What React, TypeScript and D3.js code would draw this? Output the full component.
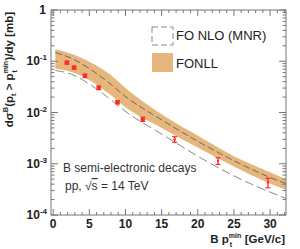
import * as d3 from 'd3';

// curve grid (B p_t^min, GeV/c)
const curveX = [0.3, 2.5, 5.4, 7.5, 10.2, 15, 20.5, 25, 30, 32.2];
const fonllHi = [0.172, 0.14, 0.091, 0.06, 0.0284, 0.0092, 0.0032, 0.0014, 0.00068, 0.0005];
const fonllLo = [0.071, 0.062, 0.04, 0.0245, 0.0121, 0.005, 0.0019, 0.00088, 0.00041, 0.00031];
const mnrHi = [0.148, 0.115, 0.066, 0.04, 0.0195, 0.0072, 0.0025, 0.00115, 0.00054, 0.00041];
const mnrLo = [0.066, 0.056, 0.033, 0.02, 0.01, 0.0038, 0.00128, 0.00058, 0.00028, 0.00021];

// measured points
const ptX = [1.9, 2.9, 4.4, 6.3, 8.9, 12.4, 16.8, 22.8, 29.7];
const ptY = [0.094, 0.075, 0.052, 0.0305, 0.0158, 0.0074, 0.003, 0.00113, 0.00043];
const ptLo = [0.088, 0.07, 0.048, 0.028, 0.0147, 0.0067, 0.00262, 0.00097, 0.00034];
const ptHi = [0.1, 0.08, 0.056, 0.033, 0.017, 0.0081, 0.00337, 0.00131, 0.00052];

const xTicks = [0, 5, 10, 15, 20, 25, 30];
const yDecades = [0, -1, -2, -3, -4];

const W = 300;
const H = 249;
const m = { left: 51, right: 286, top: 10, bottom: 215 };
const BAND = '#e6b67c';
const RED = '#ff2a2a';
const AXIS = '#777';
const FONT = '"Liberation Sans", Arial, sans-serif';

export default function App() {
  const x = d3.scaleLinear().domain([-0.3, 32.2]).range([m.left, m.right]);
  const y = d3.scaleLog().domain([1e-4, 1]).range([m.bottom, m.top]);

  const idx = d3.range(curveX.length);
  const band = d3.area<number>()
    .x(i => x(curveX[i]))
    .y0(i => y(fonllLo[i]))
    .y1(i => y(fonllHi[i]))
    .curve(d3.curveMonotoneX);
  const lineOf = (vals: number[]) => d3.line<number>()
    .x(i => x(curveX[i]))
    .y(i => y(vals[i]))
    .curve(d3.curveMonotoneX)(idx) || '';

  // minor ticks
  const xMinor = d3.range(0, 33).filter(v => v % 5 !== 0);
  const yMinor: number[] = [];
  for (let e = -4; e < 0; e++) {
    for (let k = 2; k <= 9; k++) yMinor.push(k * Math.pow(10, e));
  }

  return (
    <svg width={W} height={H} style={{ position: 'absolute', left: 0, top: 0, background: '#fff' }} fontFamily={FONT}>
      {/* FONLL band */}
      <path d={band(idx) || ''} fill={BAND} stroke="none" />
      {/* FO NLO (MNR) edges */}
      <path d={lineOf(mnrHi)} fill="none" stroke="#6a6a6a" strokeWidth={1} strokeDasharray="7,3" />
      <path d={lineOf(mnrLo)} fill="none" stroke="#8a8a8a" strokeWidth={1} strokeDasharray="9,4" />

      {/* data points */}
      {ptX.map((v, i) => (
        <g key={i} stroke={RED} fill={RED}>
          <line x1={x(v)} x2={x(v)} y1={y(ptLo[i])} y2={y(ptHi[i])} strokeWidth={1.3} />
          <line x1={x(v) - 2.5} x2={x(v) + 2.5} y1={y(ptLo[i])} y2={y(ptLo[i])} strokeWidth={1.2} />
          <line x1={x(v) - 2.5} x2={x(v) + 2.5} y1={y(ptHi[i])} y2={y(ptHi[i])} strokeWidth={1.2} />
          <circle cx={x(v)} cy={y(ptY[i])} r={i < 6 ? 2.3 : 1.2} stroke="none" />
        </g>
      ))}

      {/* frame */}
      <rect x={m.left} y={m.top} width={m.right - m.left} height={m.bottom - m.top} fill="none" stroke={AXIS} strokeWidth={1} />

      {/* x ticks bottom & top */}
      {xTicks.map(v => (
        <g key={'xt' + v} stroke={AXIS}>
          <line x1={x(v)} x2={x(v)} y1={m.bottom} y2={m.bottom - 6} />
          <line x1={x(v)} x2={x(v)} y1={m.top} y2={m.top + 6} />
        </g>
      ))}
      {xMinor.map(v => (
        <g key={'xm' + v} stroke={AXIS}>
          <line x1={x(v)} x2={x(v)} y1={m.bottom} y2={m.bottom - 3} />
          <line x1={x(v)} x2={x(v)} y1={m.top} y2={m.top + 3} />
        </g>
      ))}
      {xTicks.map(v => (
        <text key={'xl' + v} x={x(v)} y={228} textAnchor="middle" fontSize={12} fontWeight="bold" fill="#222">{v}</text>
      ))}

      {/* y ticks left & right */}
      {yDecades.map(e => (
        <g key={'yt' + e} stroke={AXIS}>
          <line x1={m.left} x2={m.left + 7} y1={y(Math.pow(10, e))} y2={y(Math.pow(10, e))} />
          <line x1={m.right} x2={m.right - 7} y1={y(Math.pow(10, e))} y2={y(Math.pow(10, e))} />
        </g>
      ))}
      {yMinor.map((v, i) => (
        <g key={'ym' + i} stroke={AXIS}>
          <line x1={m.left} x2={m.left + 3.5} y1={y(v)} y2={y(v)} />
          <line x1={m.right} x2={m.right - 3.5} y1={y(v)} y2={y(v)} />
        </g>
      ))}
      {yDecades.map(e => (
        e === 0 ? (
          <text key={'yl' + e} x={46} y={y(1) + 4} textAnchor="end" fontSize={12} fontWeight="bold" fill="#222">1</text>
        ) : (
          <text key={'yl' + e} x={47} y={y(Math.pow(10, e)) + 4} textAnchor="end" fontSize={12} fontWeight="bold" fill="#222">
            10<tspan fontSize={8} dy={-5}>{e}</tspan>
          </text>
        )
      ))}

      {/* axis titles */}
      <text x={285} y={243} textAnchor="end" fontSize={11.5} fontWeight="bold" fill="#222">
        B p<tspan fontSize={7} dy={-5}>min</tspan>
        <tspan fontSize={7} dx={-11.5} dy={9}>t</tspan>
        <tspan dx={9.5} dy={-4}> [GeV/c]</tspan>
      </text>
      <text transform="translate(13,12) rotate(-90)" textAnchor="end" fontSize={11.5} fontWeight="bold" fill="#222">
        dσ<tspan fontSize={7.5} dy={-5}>B</tspan>
        <tspan dy={5}>(p</tspan>
        <tspan fontSize={7.5} dy={3}>t</tspan>
        <tspan dy={-3}> &gt; p</tspan>
        <tspan fontSize={7} dy={-5}>min</tspan>
        <tspan fontSize={7} dx={-11.5} dy={9}>t</tspan>
        <tspan dx={9.5} dy={-4}>)/dy [mb]</tspan>
      </text>

      {/* legend */}
      <rect x={152} y={27} width={21} height={18} fill="none" stroke="#888" strokeDasharray="6,3" />
      <text x={176} y={40} fontSize={13} fill="#222">FO NLO (MNR)</text>
      <rect x={152} y={53} width={21} height={19} fill={BAND} />
      <text x={176} y={68} fontSize={13} fill="#222">FONLL</text>

      {/* annotation */}
      <text x={63} y={172} fontSize={12} fill="#333">B semi-electronic decays</text>
      <text x={65} y={190} fontSize={12} fill="#333">pp, √<tspan textDecoration="overline">s</tspan> = 14 TeV</text>
    </svg>
  );
}
